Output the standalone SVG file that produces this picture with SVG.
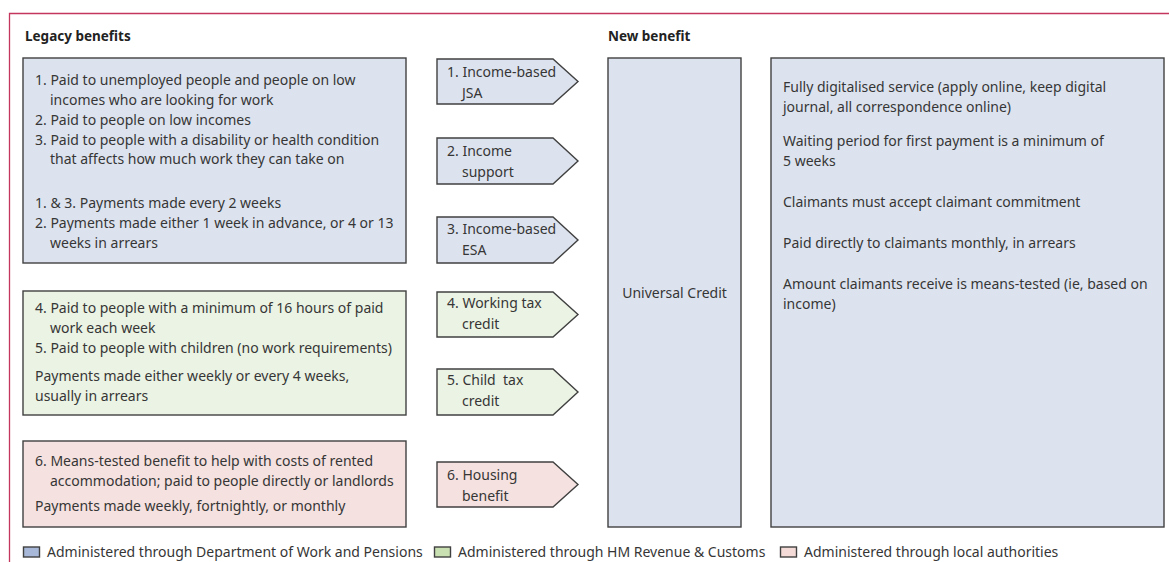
<svg xmlns="http://www.w3.org/2000/svg" width="1169" height="562" viewBox="0 0 1169 562">
<style>
text{font-family:"Noto Sans","Open Sans","DejaVu Sans",sans-serif;font-size:14px;fill:#363636}
.title{font-weight:bold;font-size:13.5px;fill:#222222}
.box{stroke:#404040;stroke-width:1.4}
.blue{fill:#dde3ee}
.green{fill:#ebf3e4}
.pink{fill:#f5e1df}
.frame{stroke:#c4365e;stroke-width:1.3;fill:none}
.lb{fill:#a8b8d8}
.lg{fill:#c8e0b2}
.lp{fill:#f4dbd7}
</style>
<path class="frame" d="M9.5 562V13.5H1169"/>
<text class="title" x="25" y="41">Legacy benefits</text>
<text class="title" x="608" y="41">New benefit</text>
<g id="legacy-dwp">
<rect class="box blue" x="23" y="58" width="383" height="205"/>
<text x="35" y="85">1. Paid to unemployed people and people on low</text>
<text x="50" y="105">incomes who are looking for work</text>
<text x="35" y="125">2. Paid to people on low incomes</text>
<text x="35" y="145">3. Paid to people with a disability or health condition</text>
<text x="50" y="164">that affects how much work they can take on</text>
<text x="35" y="208">1. &amp; 3. Payments made every 2 weeks</text>
<text x="35" y="228">2. Payments made either 1 week in advance, or 4 or 13</text>
<text x="50" y="248">weeks in arrears</text>
</g>
<g id="legacy-hmrc">
<rect class="box green" x="23" y="291" width="383" height="124"/>
<text x="35" y="313">4. Paid to people with a minimum of 16 hours of paid</text>
<text x="50" y="333">work each week</text>
<text x="35" y="353">5. Paid to people with children (no work requirements)</text>
<text x="35" y="381">Payments made either weekly or every 4 weeks,</text>
<text x="35" y="401">usually in arrears</text>
</g>
<g id="legacy-local">
<rect class="box pink" x="23" y="441" width="383" height="86"/>
<text x="35" y="466">6. Means-tested benefit to help with costs of rented</text>
<text x="50" y="486">accommodation; paid to people directly or landlords</text>
<text x="35" y="511">Payments made weekly, fortnightly, or monthly</text>
</g>
<g id="connectors">
<g id="arrow-jsa">
<path class="box blue" d="M437 59H553L578 81.5L553 104H437Z"/>
<text x="447" y="77">1. Income-based</text>
<text x="462" y="98">JSA</text>
</g>
<g id="arrow-is">
<path class="box blue" d="M437 138H553L578 161L553 184H437Z"/>
<text x="447" y="156">2. Income</text>
<text x="462" y="177">support</text>
</g>
<g id="arrow-esa">
<path class="box blue" d="M437 217H553L578 240L553 263H437Z"/>
<text x="447" y="234">3. Income-based</text>
<text x="462" y="255">ESA</text>
</g>
<g id="arrow-wtc">
<path class="box green" d="M437 292H553L578 314.5L553 337H437Z"/>
<text x="447" y="308">4. Working tax</text>
<text x="462" y="329">credit</text>
</g>
<g id="arrow-ctc">
<path class="box green" d="M437 369H553L578 392L553 415H437Z"/>
<text x="447" y="385" xml:space="preserve" style="white-space:pre">5. Child  tax</text>
<text x="462" y="406">credit</text>
</g>
<g id="arrow-hb">
<path class="box pink" d="M437 462H553L578 484.5L553 507H437Z"/>
<text x="447" y="480">6. Housing</text>
<text x="462" y="501">benefit</text>
</g>
</g>
<g id="universal-credit">
<rect class="box blue" x="608" y="58" width="133" height="469"/>
<text x="674.5" y="298" text-anchor="middle">Universal Credit</text>
</g>
<g id="uc-features">
<rect class="box blue" x="771" y="58" width="393" height="469"/>
<text x="783" y="92">Fully digitalised service (apply online, keep digital</text>
<text x="783" y="112">journal, all correspondence online)</text>
<text x="783" y="146">Waiting period for first payment is a minimum of</text>
<text x="783" y="166">5 weeks</text>
<text x="783" y="207">Claimants must accept claimant commitment</text>
<text x="783" y="248">Paid directly to claimants monthly, in arrears</text>
<text x="783" y="289">Amount claimants receive is means-tested (ie, based on</text>
<text x="783" y="309">income)</text>
</g>
<g id="legend">
<rect class="box lb" x="23.5" y="547" width="16" height="10"/>
<text x="47" y="557">Administered through Department of Work and Pensions</text>
<rect class="box lg" x="434.5" y="547" width="16" height="10"/>
<text x="458" y="557">Administered through HM Revenue &amp; Customs</text>
<rect class="box lp" x="780.5" y="547" width="16" height="10"/>
<text x="804" y="557">Administered through local authorities</text>
</g>
</svg>
